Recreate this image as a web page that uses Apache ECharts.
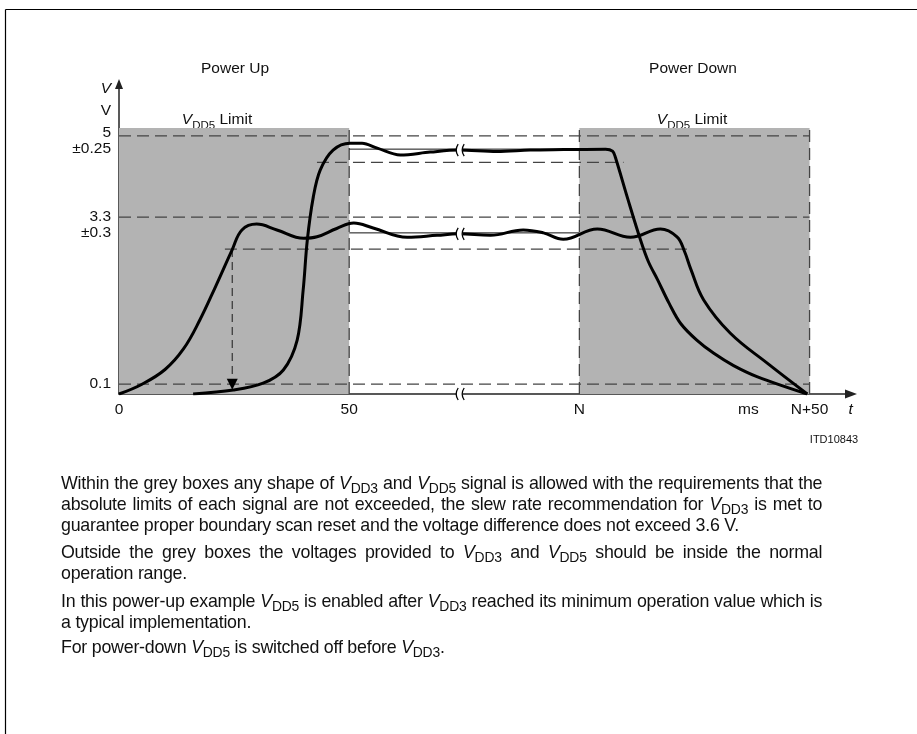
<!DOCTYPE html>
<html>
<head>
<meta charset="utf-8">
<script src="https://cdn.jsdelivr.net/npm/echarts@6/dist/echarts.min.js"></script>
<style>
  html, body { margin: 0; padding: 0; background: #fff; }
  #wrap { position: relative; width: 917px; height: 734px; overflow: hidden; }
  #chart { position: absolute; left: 0; top: 0; width: 917px; height: 734px; }
  #notes {
    position: absolute; left: 61px; top: 472px; width: 812px;
    transform: scaleX(0.9375); transform-origin: 0 0;
    font-family: "Liberation Sans", Arial, sans-serif; font-size: 19px; line-height: 21px; color: #111;
    letter-spacing: -0.25px;
  }
  #notes .ln { text-align: justify; text-align-last: justify; white-space: nowrap; }
  #notes .ln.last { text-align-last: left; }
  #notes sub { font-size: 0.78em; vertical-align: -0.3em; line-height: 0; }
  #notes i { font-style: italic; }
</style>
</head>
<body>
<div id="wrap">
  <div id="chart"></div>
  <div id="notes">
    <div style="margin-bottom:6px">
      <div class="ln">Within the grey boxes any shape of <i>V</i><sub>DD3</sub> and <i>V</i><sub>DD5</sub> signal is allowed with the requirements that the</div>
      <div class="ln">absolute limits of each signal are not exceeded, the slew rate recommendation for <i>V</i><sub>DD3</sub> is met to</div>
      <div class="ln last">guarantee proper boundary scan reset and the voltage difference does not exceed 3.6 V.</div>
    </div>
    <div style="margin-bottom:7px">
      <div class="ln">Outside the grey boxes the voltages provided to <i>V</i><sub>DD3</sub> and <i>V</i><sub>DD5</sub> should be inside the normal</div>
      <div class="ln last">operation range.</div>
    </div>
    <div style="margin-bottom:4px">
      <div class="ln">In this power-up example <i>V</i><sub>DD5</sub> is enabled after <i>V</i><sub>DD3</sub> reached its minimum operation value which is</div>
      <div class="ln last">a typical implementation.</div>
    </div>
    <div>
      <div class="ln last">For power-down <i>V</i><sub>DD5</sub> is switched off before <i>V</i><sub>DD3</sub>.</div>
    </div>
  </div>
</div>
<script>
// sketch units: x = ms (0..50 power up, 100 = N, 150 = N+50), y = volts as drawn (not to scale near 0)
const xTickValues = [0, 50, 100, 136.7, 150, 158.9];
const xTickLabels = ['0', '50', 'N', 'ms', 'N+50', 't'];
const yLabelValues = [0.2, 3.29, 3.63, 5.0, 5.33, 5.78, 6.24];
const yLabelTexts = ['0.1', '±0.3', '3.3', '±0.25', '5', 'V', 'V'];
const yTickValues = [3.29, 5.0];

const vdd3T = [0, 5, 10, 14, 17.5, 21, 24.6, 26.7, 29.9, 34.3, 40.1, 43, 47.3, 51, 55.2, 62.6, 69.1, 73.7, 80.7, 87.8, 92.2, 96.5, 103.9, 111.1, 117.6, 121.2, 122.8, 124.2, 127, 132.8, 140.8, 149.5];
const vdd3V = [0, 0.2, 0.5, 0.92, 1.5, 2.2, 2.95, 3.35, 3.47, 3.35, 3.18, 3.21, 3.38, 3.49, 3.39, 3.2, 3.24, 3.27, 3.24, 3.35, 3.29, 3.16, 3.37, 3.2, 3.37, 3.21, 2.92, 2.55, 1.92, 1.24, 0.63, 0];

const vdd5T = [16.1, 24.8, 31.3, 35.7, 38.7, 40, 40.9, 42.2, 43.7, 46.5, 50.2, 52.8, 56.1, 61.1, 67.6, 73.7, 82.1, 89.3, 96.6, 105.7, 107.2, 107.8, 110.4, 113.3, 115, 117, 119.5, 122, 125.5, 129.2, 133.5, 138.7, 149.5];
const vdd5V = [0, 0.08, 0.22, 0.49, 1.1, 2.12, 3.14, 4.02, 4.57, 4.98, 5.12, 5.12, 5.02, 4.88, 4.94, 4.98, 4.95, 4.98, 4.99, 5.0, 4.96, 4.84, 4.02, 3.14, 2.7, 2.33, 1.85, 1.44, 1.1, 0.83, 0.58, 0.35, 0];

// dashed limit lines: level, from, to
const limitY = [5.27, 4.73, 3.61, 2.96, 0.2];
const limitFrom = [0, 43, 0, 23, 0];
const limitTo = [150, 109.6, 150, 124, 150];

const boxEdgesX = [50, 100, 150];
const boxTop = 5.43;
const nominalY = [5.0, 3.29];
const arrowX = 24.6;
const breakX = 74;
const breakY = [4.98, 3.27, 0];

const FONT = '"Liberation Sans", Arial, sans-serif';
const DASH = [12, 6];
const DASHC = '#444';

const pairs = (t, v) => t.map((x, i) => [x, v[i]]);

const chart = echarts.init(document.getElementById('chart'));

const series = [];
limitY.forEach((y, i) => {
  series.push({
    type: 'line', z: 3, symbol: 'none', silent: true,
    data: [[limitFrom[i], y], [limitTo[i], y]],
    lineStyle: { color: DASHC, width: 1.3, type: DASH },
    markArea: i === 0 ? {
      silent: true, z: 1,
      itemStyle: { color: '#b3b3b3' },
      data: [
        [{ xAxis: 0, yAxis: 0 }, { xAxis: 50, yAxis: boxTop }],
        [{ xAxis: 100, yAxis: 0 }, { xAxis: 150, yAxis: boxTop }]
      ]
    } : undefined
  });
});
boxEdgesX.forEach(x => {
  series.push({
    type: 'line', z: 3, symbol: 'none', silent: true,
    data: [[x, 0], [x, boxTop]],
    lineStyle: { color: DASHC, width: 1.3, type: DASH }
  });
});
nominalY.forEach(y => {
  series.push({
    type: 'line', z: 3, symbol: 'none', silent: true,
    data: [[50, y], [100, y]],
    lineStyle: { color: '#111', width: 1 }
  });
});
series.push({
  type: 'line', z: 4, silent: true, showSymbol: true,
  data: [
    { value: [arrowX, limitY[3]], symbol: 'none' },
    { value: [arrowX, limitY[4]], symbol: 'triangle', symbolRotate: 180, symbolSize: [11, 11] }
  ],
  itemStyle: { color: '#000' },
  lineStyle: { color: '#333', width: 1.2, type: [8, 5] }
});
series.push({
  name: 'VDD3', type: 'line', z: 5, symbol: 'none', smooth: 0.4,
  data: pairs(vdd3T, vdd3V),
  lineStyle: { color: '#000', width: 3 }
});
series.push({
  name: 'VDD5', type: 'line', z: 5, symbol: 'none', smooth: 0.35,
  data: pairs(vdd5T, vdd5V),
  lineStyle: { color: '#000', width: 3 }
});
series.push({
  type: 'custom', z: 10, clip: false, silent: true,
  data: breakY.map(y => [breakX, y]),
  renderItem: (params, api) => {
    const p = api.coord([api.value(0), api.value(1)]);
    const cx = p[0], cy = p[1];
    const mark = dx => ({
      type: 'bezierCurve',
      shape: { x1: cx + dx + 1.5, y1: cy - 6, x2: cx + dx + 1.5, y2: cy + 6, cpx1: cx + dx - 2.5, cpy1: cy },
      style: { stroke: '#000', lineWidth: 1.3, fill: null }
    });
    return {
      type: 'group',
      children: [
        { type: 'rect', shape: { x: cx - 3, y: cy - 3.5, width: 6, height: 7 }, style: { fill: '#fff' } },
        mark(-3), mark(3)
      ]
    };
  }
});

const rich = {
  i: { fontStyle: 'italic', fontSize: 15.5, fontFamily: FONT, color: '#111' },
  s: { fontSize: 11.5, fontFamily: FONT, color: '#111', padding: [12, 0, 0, 0] },
  n: { fontSize: 15.5, fontFamily: FONT, color: '#111' }
};
const txt = (x, y, text, extra) => ({
  type: 'text', x, y,
  style: Object.assign({ text, rich, align: 'center', verticalAlign: 'middle', font: '15.5px ' + FONT, fill: '#111' }, extra || {})
});

chart.setOption({
  animation: false,
  backgroundColor: '#fff',
  grid: { left: 119, right: 66, top: 84, bottom: 340, containLabel: false },
  xAxis: {
    type: 'value', min: 0, max: 159,
    axisLine: { show: true, symbol: ['none', 'triangle'], symbolSize: [9, 12], lineStyle: { color: '#222', width: 1.5 } },
    axisTick: { show: false },
    splitLine: { show: false },
    axisLabel: {
      customValues: xTickValues, margin: 8, fontFamily: FONT, fontSize: 15.5, color: '#111',
      formatter: v => {
        const i = xTickValues.findIndex(t => Math.abs(t - v) < 0.01);
        const s = i < 0 ? '' : xTickLabels[i];
        return s === 't' ? '{i|t}' : s;
      },
      rich: { i: { fontStyle: 'italic', fontSize: 15.5, fontFamily: FONT, color: '#111' } }
    }
  },
  yAxis: {
    type: 'value', min: 0, max: 6.33,
    axisLine: { show: true, symbol: ['none', 'triangle'], symbolSize: [8, 10], lineStyle: { color: '#222', width: 1.5 } },
    axisTick: { show: true, customValues: yTickValues, inside: true, length: 10, lineStyle: { color: '#222', width: 1.3 } },
    splitLine: { show: false },
    axisLabel: {
      customValues: yLabelValues, margin: 8, fontFamily: FONT, fontSize: 15.5, color: '#111',
      formatter: v => {
        const i = yLabelValues.findIndex(t => Math.abs(t - v) < 0.001);
        if (i < 0) return '';
        return i === yLabelValues.length - 1 ? '{i|V}' : yLabelTexts[i];
      },
      rich: { i: { fontStyle: 'italic', fontSize: 15.5, fontFamily: FONT, color: '#111' } }
    }
  },
  graphic: [
    { type: 'line', shape: { x1: 5.5, y1: 9.5, x2: 917, y2: 9.5 }, style: { stroke: '#000', lineWidth: 1.2 } },
    { type: 'line', shape: { x1: 5.5, y1: 9.5, x2: 5.5, y2: 734 }, style: { stroke: '#000', lineWidth: 1.2 } },
    txt(235, 69, 'Power Up'),
    txt(693, 69, 'Power Down'),
    txt(217, 120, '{i|V}{s|DD5}{n| Limit}'),
    txt(692, 120, '{i|V}{s|DD5}{n| Limit}'),
    txt(217, 202, '{i|V}{s|DD3}{n| Limit}'),
    txt(692, 202, '{i|V}{s|DD3}{n| Limit}'),
    txt(834, 440, 'ITD10843', { font: '11px ' + FONT })
  ],
  series
});
</script>
</body>
</html>
